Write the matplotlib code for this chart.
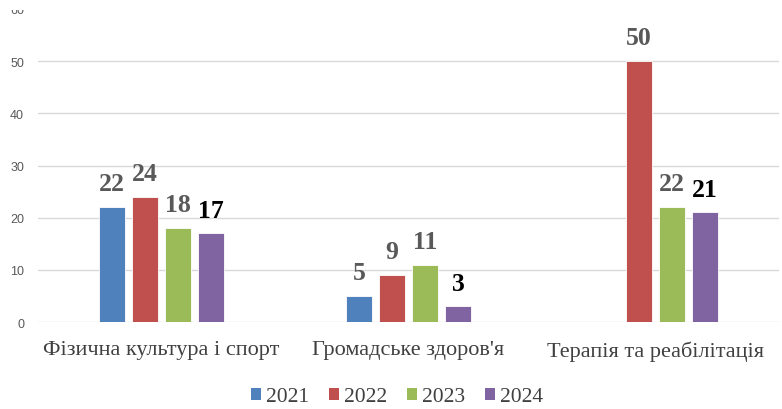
import numpy as np
import matplotlib
matplotlib.use("Agg")
import matplotlib.pyplot as plt
from matplotlib.patches import Patch, Rectangle

categories = ["Фізична культура і спорт", "Громадське здоров'я", "Терапія та реабілітація"]
series_names = ["2021", "2022", "2023", "2024"]
v2021 = [22, 5, np.nan]
v2022 = [24, 9, 50]
v2023 = [18, 11, 22]
v2024 = [17, 3, 21]
yticks = [0, 10, 20, 30, 40, 50, 60]

values = [v2021, v2022, v2023, v2024]
colors = ["#4F81BD", "#C0504D", "#9BBB59", "#8064A2"]
label_colors = ["#595959", "#595959", "#595959", "#000000"]
SERIF = "Liberation Serif"

W, H = 782, 410
fig = plt.figure(figsize=(W / 100, H / 100), dpi=100)
left_px, right_px, bottom_px, top_px = 38, 779, 323, 10
ax = fig.add_axes([left_px / W, 1 - bottom_px / H, (right_px - left_px) / W, (bottom_px - top_px) / H])

x = np.arange(len(categories))
bw = 0.105
step = 0.134
for i, (vals, c, lc) in enumerate(zip(values, colors, label_colors)):
    pos = x + (i - 1.5) * step
    v = np.array(vals, dtype=float)
    ax.bar(pos, v, width=bw, color=c, edgecolor="white", linewidth=0.6, zorder=3)
    for p, val in zip(pos, v):
        if not np.isnan(val):
            ax.annotate(f"{int(val)}", (p, val), xytext=(0, 8.5), textcoords="offset points",
                        ha="center", va="bottom", fontsize=18.5, fontweight="bold",
                        fontfamily=SERIF, color=lc)

ax.set_xlim(-0.5, len(categories) - 0.5)
ax.set_ylim(0, 60)
ax.set_yticks(yticks)
ax.set_yticklabels([str(t) for t in yticks])
for lbl in ax.get_yticklabels():
    lbl.set_fontfamily("Liberation Sans")
    lbl.set_fontsize(9)
    lbl.set_color("#595959")
ax.grid(axis="y", color="#D9D9D9", linewidth=1, zorder=0)
ax.get_ygridlines()[-1].set_visible(False)
ax.tick_params(axis="y", length=0, pad=10)
ax.set_xticks(x)
ax.set_xticklabels(categories)
for lbl in ax.get_xticklabels():
    lbl.set_fontfamily(SERIF)
    lbl.set_fontsize(16)
    lbl.set_color("#404040")
ax.tick_params(axis="x", length=0, pad=13)
for s in ax.spines.values():
    s.set_visible(False)

# the reference image is cropped through the top tick label
fig.patches.append(Rectangle((0, 1 - 11 / H), 36 / W, 11 / H, transform=fig.transFigure,
                             facecolor="white", edgecolor="none", zorder=10))

handles = [Patch(facecolor=c, edgecolor="none") for c in colors]
leg = fig.legend(handles, series_names, loc="center", bbox_to_anchor=(397 / W, 1 - 398 / H),
                 ncol=4, frameon=False, fontsize=15.5,
                 handlelength=0.47, handleheight=0.47, handletextpad=0.25, columnspacing=0.9)
for t in leg.get_texts():
    t.set_fontfamily(SERIF)
    t.set_color("#404040")

fig.savefig("out.png", dpi=100)
